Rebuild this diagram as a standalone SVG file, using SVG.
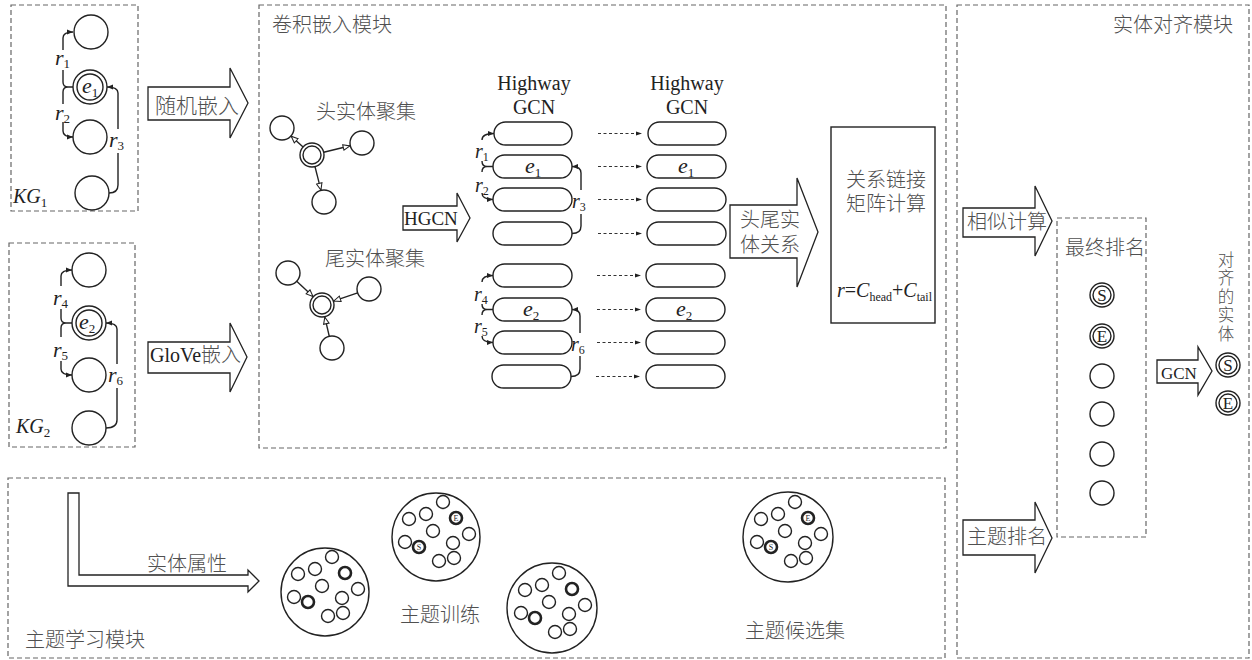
<svg xmlns="http://www.w3.org/2000/svg" width="1252" height="660" viewBox="0 0 1252 660">
<defs>
<style>
.box{fill:none;stroke:#666;stroke-width:1.2;stroke-dasharray:5,3}
.ln{fill:none;stroke:#222;stroke-width:1.4}
.nd{fill:#fff;stroke:#222;stroke-width:1.4}
.th{fill:#fff;stroke:#222;stroke-width:2.6}
.blk{fill:#fff;stroke:#222;stroke-width:1.3}
.dsh{fill:none;stroke:#333;stroke-width:1.1;stroke-dasharray:3,2.5}
.zh{font-family:"Noto Sans CJK SC",sans-serif;font-size:20px;font-weight:300;fill:#505050}
.lt{font-family:"Liberation Serif",serif;font-size:20px;fill:#222}
.it{font-family:"Liberation Serif",serif;font-size:22px;font-style:italic;fill:#222}
.sb{font-family:"Liberation Serif",serif;font-size:13px;font-style:normal;fill:#222}
.ltr{font-family:"Liberation Serif",serif;font-size:17px;fill:#222;text-anchor:middle}
.tiny{font-family:"Liberation Serif",serif;font-size:8px;fill:#222;text-anchor:middle}
</style>
<marker id="ah" viewBox="0 0 10 10" refX="10" refY="5" markerWidth="6" markerHeight="6" markerUnits="userSpaceOnUse" orient="auto"><path d="M0,1 L10,5 L0,9 z" fill="#222"/></marker>
<marker id="hol" viewBox="0 0 10 10" refX="10" refY="5" markerWidth="8" markerHeight="8" markerUnits="userSpaceOnUse" orient="auto"><path d="M1,1.5 L9.5,5 L1,8.5 z" fill="#fff" stroke="#222" stroke-width="1.3"/></marker>
<marker id="dah" viewBox="0 0 10 10" refX="10" refY="5" markerWidth="6" markerHeight="6" markerUnits="userSpaceOnUse" orient="auto"><path d="M0,1.5 L10,5 L0,8.5 z" fill="#222"/></marker>
</defs>

<g id="modules">
<rect class="box" x="11" y="5" width="127" height="206"/>
<rect class="box" x="9" y="243" width="126" height="204"/>
<rect class="box" x="259" y="5" width="687" height="443"/>
<rect class="box" x="957" y="5" width="292" height="653"/>
<rect class="box" x="8" y="478" width="937" height="180"/>
<rect class="box" x="1057" y="218" width="89" height="319"/>
<text class="zh" x="272" y="32">卷积嵌入模块</text>
<text class="zh" x="1113" y="32">实体对齐模块</text>
<text class="zh" x="25" y="647">主题学习模块</text>
</g>

<g id="kg1">
<circle class="nd" cx="91" cy="32" r="17"/>
<circle class="nd" cx="90" cy="87" r="17"/>
<circle class="nd" cx="90" cy="87" r="13"/>
<circle class="nd" cx="90" cy="137" r="17"/>
<circle class="nd" cx="92" cy="193" r="17"/>
<text class="it" x="82" y="93">e<tspan class="sb" dy="4">1</tspan></text>
<text class="it" x="13" y="203" style="font-size:20px">KG<tspan class="sb" dy="4">1</tspan></text>
</g>

<g id="kg2">
<circle class="nd" cx="89" cy="270" r="17"/>
<circle class="nd" cx="89" cy="323" r="17"/>
<circle class="nd" cx="89" cy="323" r="13"/>
<circle class="nd" cx="89" cy="375" r="17"/>
<circle class="nd" cx="89" cy="428" r="17"/>
<text class="it" x="79" y="329">e<tspan class="sb" dy="4">2</tspan></text>
<text class="it" x="16" y="433" style="font-size:20px">KG<tspan class="sb" dy="4">2</tspan></text>
</g>

<g id="arrow-random">
<polygon class="blk" points="148,87 230,87 230,68 248,103 230,138 230,120 148,120"/>
<text class="zh" x="155" y="113" style="font-size:21px">随机嵌入</text>
</g>
<g id="arrow-glove">
<polygon class="blk" points="148,342 230,342 230,323 247,357 230,392 230,373 148,373"/>
<text class="lt" x="150" y="362">GloVe<tspan style="font-family:'Noto Sans CJK SC',sans-serif;font-weight:300;fill:#505050">嵌入</tspan></text>
</g>

<g id="head-cluster">
<circle class="nd" cx="282" cy="128" r="12"/>
<circle class="nd" cx="362" cy="143" r="12"/>
<circle class="nd" cx="324" cy="202" r="12"/>
<circle class="nd" cx="312" cy="155" r="12"/>
<circle class="nd" cx="312" cy="155" r="9"/>
<text class="zh" x="316" y="119">头实体聚集</text>
</g>
<g id="tail-cluster">
<circle class="nd" cx="288" cy="273" r="12"/>
<circle class="nd" cx="369" cy="289" r="12"/>
<circle class="nd" cx="332" cy="348" r="12"/>
<circle class="nd" cx="322" cy="305" r="12"/>
<circle class="nd" cx="322" cy="305" r="9"/>
<text class="zh" x="325" y="266">尾实体聚集</text>
</g>

<g id="arrow-hgcn">
<polygon class="blk" points="403,206 457,206 457,193 470,218 457,242 457,230 403,230"/>
<text class="lt" x="404" y="225" style="font-size:19px">HGCN</text>
</g>

<g id="highway1">
<text class="lt" x="534" y="90" text-anchor="middle">Highway</text>
<text class="lt" x="534" y="114" text-anchor="middle">GCN</text>
<rect class="nd" x="494" y="122" width="78" height="23" rx="11.5"/>
<rect class="nd" x="493" y="155" width="79" height="23" rx="11.5"/>
<rect class="nd" x="493" y="188" width="79" height="23" rx="11.5"/>
<rect class="nd" x="493" y="222" width="79" height="23" rx="11.5"/>
<rect class="nd" x="493" y="264" width="79" height="23" rx="11.5"/>
<rect class="nd" x="493" y="298" width="79" height="23" rx="11.5"/>
<rect class="nd" x="493" y="331" width="79" height="23" rx="11.5"/>
<rect class="nd" x="492" y="365" width="79" height="23" rx="11.5"/>
<text class="it" x="525" y="173">e<tspan class="sb" dy="4">1</tspan></text>
<text class="it" x="523" y="316">e<tspan class="sb" dy="4">2</tspan></text>
</g>

<g id="highway2">
<text class="lt" x="687" y="90" text-anchor="middle">Highway</text>
<text class="lt" x="687" y="114" text-anchor="middle">GCN</text>
<rect class="nd" x="648" y="122" width="78" height="23" rx="11.5"/>
<rect class="nd" x="647" y="155" width="79" height="23" rx="11.5"/>
<rect class="nd" x="647" y="188" width="79" height="23" rx="11.5"/>
<rect class="nd" x="647" y="222" width="79" height="23" rx="11.5"/>
<rect class="nd" x="646" y="264" width="79" height="23" rx="11.5"/>
<rect class="nd" x="646" y="298" width="79" height="23" rx="11.5"/>
<rect class="nd" x="646" y="331" width="79" height="23" rx="11.5"/>
<rect class="nd" x="646" y="365" width="79" height="23" rx="11.5"/>
<text class="it" x="678" y="173">e<tspan class="sb" dy="4">1</tspan></text>
<text class="it" x="676" y="316">e<tspan class="sb" dy="4">2</tspan></text>
</g>

<g id="arrow-headtail">
<polygon class="blk" points="730,205 797,205 797,178 818,232 797,287 797,258 730,258"/>
<text class="zh" x="740" y="227">头尾实</text>
<text class="zh" x="740" y="252">体关系</text>
</g>

<g id="relation-matrix">
<rect class="nd" x="831" y="127" width="104" height="196"/>
<text class="zh" x="846" y="187">关系链接</text>
<text class="zh" x="846" y="211">矩阵计算</text>
<text class="lt" x="837" y="297"><tspan font-style="italic">r</tspan>=<tspan font-style="italic">C</tspan><tspan font-size="12" dy="4">head</tspan><tspan dy="-4">+</tspan><tspan font-style="italic">C</tspan><tspan font-size="12" dy="4">tail</tspan></text>
</g>

<g id="arrow-sim">
<polygon class="blk" points="963,208 1035,208 1035,186 1052,221 1035,256 1035,237 963,237"/>
<text class="zh" x="967" y="229">相似计算</text>
</g>
<g id="arrow-topicrank">
<polygon class="blk" points="963,520 1035,520 1035,502 1052,538 1035,573 1035,555 963,555"/>
<text class="zh" x="967" y="544">主题排名</text>
</g>

<g id="final-rank">
<text class="zh" x="1065" y="255">最终排名</text>
<circle class="nd" cx="1102" cy="295" r="12"/><circle class="nd" cx="1102" cy="295" r="9"/>
<text class="ltr" x="1102" y="301">S</text>
<circle class="nd" cx="1102" cy="336" r="12"/><circle class="nd" cx="1102" cy="336" r="9"/>
<text class="ltr" x="1102" y="342">E</text>
<circle class="nd" cx="1102" cy="376" r="12"/>
<circle class="nd" cx="1102" cy="414" r="12"/>
<circle class="nd" cx="1102" cy="454" r="12"/>
<circle class="nd" cx="1102" cy="493" r="12"/>
</g>

<g id="arrow-gcn">
<polygon class="blk" points="1157,360 1198,360 1198,347 1212,371 1198,395 1198,383 1157,383"/>
<text class="lt" x="1161" y="379" style="font-size:17px">GCN</text>
</g>

<g id="aligned">
<text class="zh" x="1226" y="251" style="font-size:16.5px;writing-mode:vertical-rl;letter-spacing:2px">对齐的实体</text>
<circle class="nd" cx="1228" cy="365" r="12"/><circle class="nd" cx="1228" cy="365" r="9"/>
<text class="ltr" x="1228" y="371">S</text>
<circle class="nd" cx="1228" cy="403" r="12"/><circle class="nd" cx="1228" cy="403" r="9"/>
<text class="ltr" x="1228" y="409">E</text>
</g>

<g id="arrow-attr">
<polygon class="blk" points="68,493 79,493 79,575 248,575 248,570 259,581 248,592 248,586 68,586"/>
<text class="zh" x="147" y="571">实体属性</text>
</g>

<g id="topic-a">
<circle class="nd" cx="325" cy="592" r="44"/>
<g transform="translate(325,592)">
<circle class="nd" cx="7" cy="-35" r="6.5"/><circle class="nd" cx="-10" cy="-23" r="6.5"/><circle class="nd" cx="-27" cy="-18" r="6.5"/><circle class="th" cx="20" cy="-19" r="6"/><circle class="nd" cx="-3" cy="-6" r="6.5"/><circle class="nd" cx="33" cy="-3" r="6.5"/><circle class="nd" cx="-31" cy="5" r="6.5"/><circle class="th" cx="-17" cy="10" r="6"/><circle class="nd" cx="17" cy="6" r="6.5"/><circle class="nd" cx="3" cy="24" r="6.5"/><circle class="nd" cx="18" cy="21" r="6.5"/>
</g>
</g>
<g id="topic-b">
<circle class="nd" cx="436" cy="537" r="44"/>
<g transform="translate(436,537)">
<circle class="nd" cx="7" cy="-35" r="6.5"/><circle class="nd" cx="-10" cy="-23" r="6.5"/><circle class="nd" cx="-27" cy="-18" r="6.5"/><circle class="th" cx="20" cy="-19" r="6"/><circle class="nd" cx="-3" cy="-6" r="6.5"/><circle class="nd" cx="33" cy="-3" r="6.5"/><circle class="nd" cx="-31" cy="5" r="6.5"/><circle class="th" cx="-17" cy="10" r="6"/><circle class="nd" cx="17" cy="6" r="6.5"/><circle class="nd" cx="3" cy="24" r="6.5"/><circle class="nd" cx="18" cy="21" r="6.5"/>
<text class="tiny" x="20" y="-16">E</text><text class="tiny" x="-17" y="13">S</text>
</g>
<text class="zh" x="400" y="622">主题训练</text>
</g>
<g id="topic-c">
<circle class="nd" cx="552" cy="608" r="45"/>
<g transform="translate(552,608)">
<circle class="nd" cx="7" cy="-35" r="6.5"/><circle class="nd" cx="-10" cy="-23" r="6.5"/><circle class="nd" cx="-27" cy="-18" r="6.5"/><circle class="th" cx="20" cy="-19" r="6"/><circle class="nd" cx="-3" cy="-6" r="6.5"/><circle class="nd" cx="33" cy="-3" r="6.5"/><circle class="nd" cx="-31" cy="5" r="6.5"/><circle class="th" cx="-17" cy="10" r="6"/><circle class="nd" cx="17" cy="6" r="6.5"/><circle class="nd" cx="3" cy="24" r="6.5"/><circle class="nd" cx="18" cy="21" r="6.5"/>
</g>
</g>
<g id="topic-d">
<circle class="nd" cx="788" cy="537" r="45"/>
<g transform="translate(788,537)">
<circle class="nd" cx="7" cy="-35" r="6.5"/><circle class="nd" cx="-10" cy="-23" r="6.5"/><circle class="nd" cx="-27" cy="-18" r="6.5"/><circle class="th" cx="20" cy="-19" r="6"/><circle class="nd" cx="-3" cy="-6" r="6.5"/><circle class="nd" cx="33" cy="-3" r="6.5"/><circle class="nd" cx="-31" cy="5" r="6.5"/><circle class="th" cx="-17" cy="10" r="6"/><circle class="nd" cx="17" cy="6" r="6.5"/><circle class="nd" cx="3" cy="24" r="6.5"/><circle class="nd" cx="18" cy="21" r="6.5"/>
<text class="tiny" x="20" y="-16">E</text><text class="tiny" x="-17" y="13">S</text>
</g>
<text class="zh" x="745" y="638">主题候选集</text>
</g>

<g id="connectors">
<path class="ln" d="M63,50 L63,38 Q63,32 73,32" marker-end="url(#ah)"/>
<path class="ln" d="M63,70 L63,82 Q63,87 68,87 L73,87 M63,104 L63,92 Q63,87 68,87"/>
<path class="ln" d="M63,122 L63,131 Q63,137 73,137" marker-end="url(#ah)"/>
<path class="ln" d="M109,193 Q118,193 118,185 L118,153"/>
<path class="ln" d="M118,129 L118,93 Q118,87 107,87" marker-end="url(#ah)"/>
<text class="it" x="55" y="65">r<tspan class="sb" dy="3">1</tspan></text>
<text class="it" x="55" y="120">r<tspan class="sb" dy="3">2</tspan></text>
<text class="it" x="109" y="147">r<tspan class="sb" dy="3">3</tspan></text>
<path class="ln" d="M61,286 L61,276 Q61,270 72,270" marker-end="url(#ah)"/>
<path class="ln" d="M61,309 L61,318 Q61,323 66,323 L72,323 M61,337 L61,328 Q61,323 66,323"/>
<path class="ln" d="M61,361 L61,369 Q61,375 72,375" marker-end="url(#ah)"/>
<path class="ln" d="M106,428 Q117,428 117,420 L117,388"/>
<path class="ln" d="M117,364 L117,329 Q117,323 106,323" marker-end="url(#ah)"/>
<text class="it" x="53" y="305">r<tspan class="sb" dy="3">4</tspan></text>
<text class="it" x="53" y="357">r<tspan class="sb" dy="3">5</tspan></text>
<text class="it" x="108" y="382">r<tspan class="sb" dy="3">6</tspan></text>
<path class="ln" d="M303.1,147 L290.9,136" marker-end="url(#hol)"/>
<path class="ln" d="M323.7,152.2 L350.3,145.8" marker-end="url(#hol)"/>
<path class="ln" d="M315,166.6 L321,190.4" marker-end="url(#hol)"/>
<path class="ln" d="M296.7,281.2 L313.3,296.8" marker-end="url(#hol)"/>
<path class="ln" d="M357.6,292.9 L333.4,301.1" marker-end="url(#hol)"/>
<path class="ln" d="M329.3,336.3 L324.7,316.7" marker-end="url(#hol)"/>
<path class="ln" d="M482,140 Q482,133.5 494,133.5" marker-end="url(#ah)"/>
<path class="ln" d="M482,161 Q482,166.5 487,166.5 L493,166.5 M482,172 Q482,166.5 487,166.5"/>
<path class="ln" d="M482,193 Q482,199.5 493,199.5" marker-end="url(#ah)"/>
<path class="ln" d="M572,233.5 Q581,233.5 581,226 L581,214"/>
<path class="ln" d="M581,190 L581,173 Q581,166.5 572,166.5" marker-end="url(#ah)"/>
<text class="it" x="475" y="158" style="font-size:20px">r<tspan class="sb" dy="3" style="font-size:12px">1</tspan></text>
<text class="it" x="475" y="192" style="font-size:20px">r<tspan class="sb" dy="3" style="font-size:12px">2</tspan></text>
<text class="it" x="572" y="208" style="font-size:20px">r<tspan class="sb" dy="3" style="font-size:12px">3</tspan></text>
<path class="ln" d="M482,282 Q482,275.5 493,275.5" marker-end="url(#ah)"/>
<path class="ln" d="M482,304 Q482,309.5 487,309.5 L493,309.5 M482,315 Q482,309.5 487,309.5"/>
<path class="ln" d="M482,336 Q482,342.5 493,342.5" marker-end="url(#ah)"/>
<path class="ln" d="M571,376.5 Q580,376.5 580,369 L580,356"/>
<path class="ln" d="M580,333 L580,316 Q580,309.5 572,309.5" marker-end="url(#ah)"/>
<text class="it" x="474" y="301" style="font-size:20px">r<tspan class="sb" dy="3" style="font-size:12px">4</tspan></text>
<text class="it" x="474" y="333" style="font-size:20px">r<tspan class="sb" dy="3" style="font-size:12px">5</tspan></text>
<text class="it" x="571" y="351" style="font-size:20px">r<tspan class="sb" dy="3" style="font-size:12px">6</tspan></text>
<path class="dsh" d="M598,133.5 L642,133.5" marker-end="url(#dah)"/>
<path class="dsh" d="M598,166.5 L642,166.5" marker-end="url(#dah)"/>
<path class="dsh" d="M598,199.5 L642,199.5" marker-end="url(#dah)"/>
<path class="dsh" d="M598,233.5 L642,233.5" marker-end="url(#dah)"/>
<path class="dsh" d="M597,275.5 L641,275.5" marker-end="url(#dah)"/>
<path class="dsh" d="M597,309.5 L641,309.5" marker-end="url(#dah)"/>
<path class="dsh" d="M597,342.5 L641,342.5" marker-end="url(#dah)"/>
<path class="dsh" d="M596,376.5 L640,376.5" marker-end="url(#dah)"/>
</g>
</svg>
